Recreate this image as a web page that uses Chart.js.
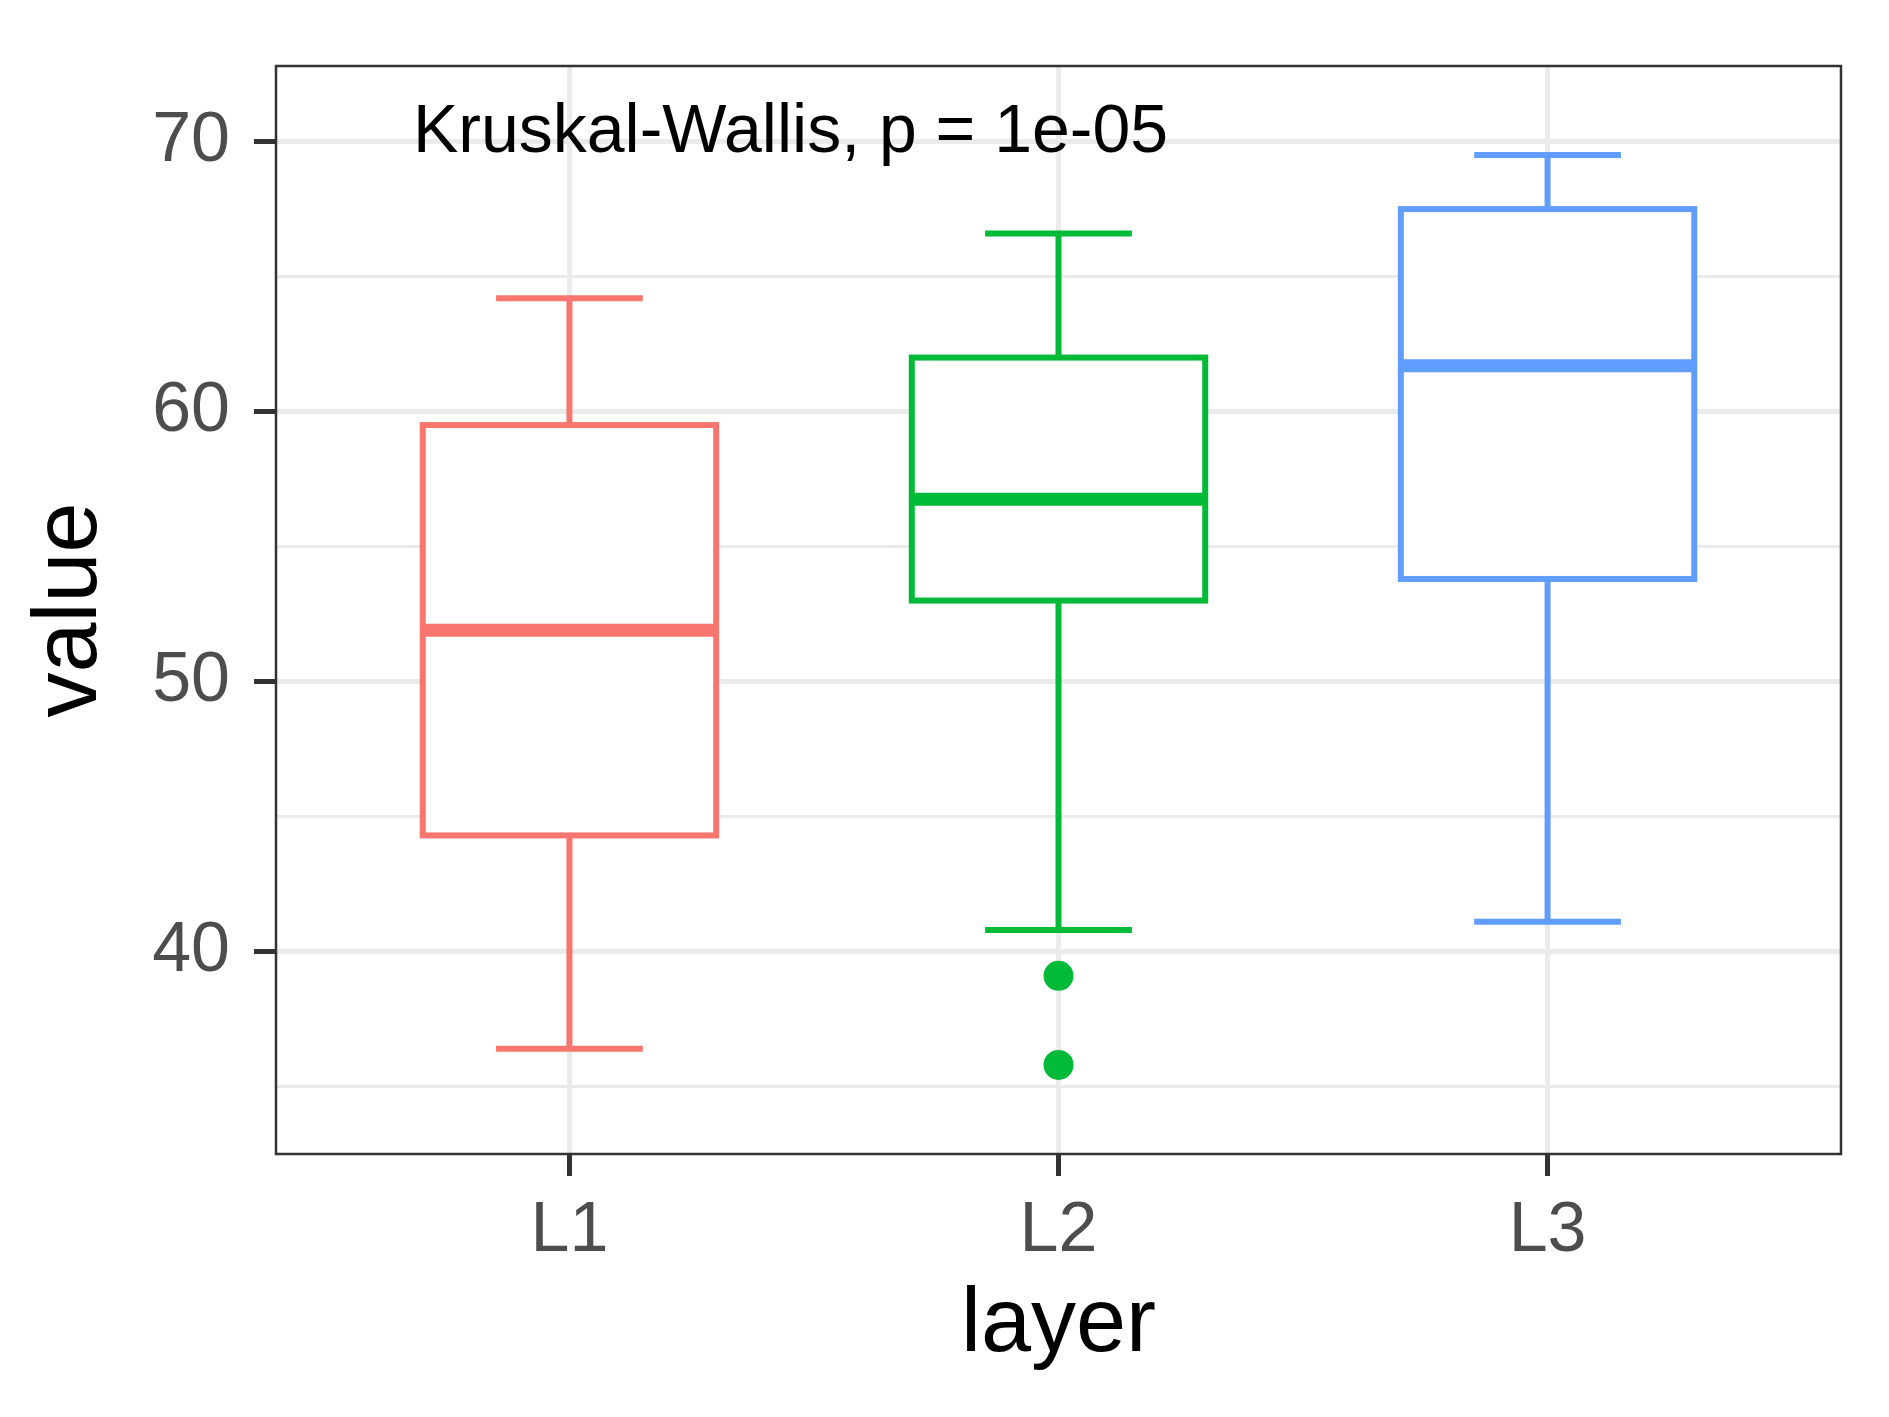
<!DOCTYPE html>
<html>
<head>
<meta charset="utf-8">
<script src="https://cdn.jsdelivr.net/npm/chart.js@4/dist/chart.umd.min.js"></script>
<style>
  html, body { margin: 0; padding: 0; background: #fff; }
  #wrap { width: 1889px; height: 1417px; }
</style>
</head>
<body>
<div id="wrap"><canvas id="box"></canvas></div>
<script>
// data
const layers = ['L1', 'L2', 'L3'];
const colors = ['#F8766D', '#00BA38', '#619CFF'];
const whiskerLow = [36.4, 40.8, 41.1];
const q1 = [44.3, 53.0, 53.8];
const median = [51.9, 56.75, 61.7];
const q3 = [59.5, 62.0, 67.5];
const whiskerHigh = [64.2, 66.6, 69.5];
const outliers = [[], [39.1, 35.8], []];
const yTicks = [35, 40, 45, 50, 55, 60, 65, 70];
const annotation = 'Kruskal-Wallis, p = 1e-05';

const FONT = 'Liberation Sans, Arial, sans-serif';

// box + whiskers drawn through the chart scales
const boxPlugin = {
  id: 'boxes',
  afterDatasetsDraw(chart) {
    const ctx = chart.ctx, x = chart.scales.x, y = chart.scales.y;
    ctx.save();
    layers.forEach((l, i) => {
      const cx = x.getPixelForValue(i + 1);
      const bl = x.getPixelForValue(i + 1 - 0.3), br = x.getPixelForValue(i + 1 + 0.3);
      const cl = x.getPixelForValue(i + 1 - 0.15), cr = x.getPixelForValue(i + 1 + 0.15);
      ctx.strokeStyle = colors[i];
      ctx.lineWidth = 6;
      ctx.beginPath();
      ctx.moveTo(cx, y.getPixelForValue(whiskerLow[i])); ctx.lineTo(cx, y.getPixelForValue(q1[i]));
      ctx.moveTo(cx, y.getPixelForValue(q3[i])); ctx.lineTo(cx, y.getPixelForValue(whiskerHigh[i]));
      ctx.moveTo(cl, y.getPixelForValue(whiskerLow[i])); ctx.lineTo(cr, y.getPixelForValue(whiskerLow[i]));
      ctx.moveTo(cl, y.getPixelForValue(whiskerHigh[i])); ctx.lineTo(cr, y.getPixelForValue(whiskerHigh[i]));
      ctx.stroke();
      const top = y.getPixelForValue(q3[i]), bot = y.getPixelForValue(q1[i]);
      ctx.fillStyle = '#fff';
      ctx.fillRect(bl, top, br - bl, bot - top);
      ctx.strokeRect(bl, top, br - bl, bot - top);
      ctx.lineWidth = 13;
      ctx.beginPath();
      ctx.moveTo(bl, y.getPixelForValue(median[i])); ctx.lineTo(br, y.getPixelForValue(median[i]));
      ctx.stroke();
      outliers[i].forEach(v => {
        ctx.fillStyle = colors[i];
        ctx.beginPath();
        ctx.arc(cx, y.getPixelForValue(v), 15, 0, Math.PI * 2);
        ctx.fill();
      });
    });
    ctx.fillStyle = '#000';
    ctx.font = '68px ' + FONT;
    ctx.textBaseline = 'middle';
    ctx.fillText(annotation, x.getPixelForValue(0.68), y.getPixelForValue(70.3));
    // panel border
    const a = chart.chartArea;
    ctx.strokeStyle = '#333';
    ctx.lineWidth = 2.5;
    ctx.strokeRect(a.left, a.top, a.right - a.left, a.bottom - a.top);
    ctx.restore();
  }
};

new Chart(document.getElementById('box'), {
  type: 'scatter',
  data: { datasets: [{ data: [], pointRadius: 0 }] },
  options: {
    responsive: true,
    maintainAspectRatio: false,
    animation: false,
    layout: { padding: { top: 48, right: 48 } },
    plugins: { legend: { display: false }, tooltip: { enabled: false } },
    scales: {
      x: {
        type: 'linear', min: 0.4, max: 3.6,
        afterBuildTicks: s => { s.ticks = [1, 2, 3].map(v => ({ value: v })); },
        afterFit: s => { s.height = 263; },
        border: { display: false },
        grid: { color: '#ebebeb', lineWidth: 5, tickColor: '#333', tickLength: 22, tickWidth: 5 },
        ticks: { callback: v => layers[v - 1] || '', color: '#4d4d4d', font: { size: 70, family: FONT }, padding: 14 },
        title: { display: true, text: 'layer', color: '#000', font: { size: 90, family: FONT }, padding: { top: 4, bottom: 37 } }
      },
      y: {
        min: 32.5, max: 72.8,
        afterBuildTicks: s => { s.ticks = yTicks.map(v => ({ value: v })); },
        afterFit: s => { s.width = 276; },
        border: { display: false },
        grid: {
          color: '#ebebeb',
          lineWidth: c => (c.tick && c.tick.value % 10 === 0 ? 5 : 3),
          tickColor: c => (c.tick && c.tick.value % 10 === 0 ? '#333' : 'rgba(0,0,0,0)'),
          tickLength: 22, tickWidth: 5
        },
        ticks: { callback: v => (v % 10 === 0 ? v : ''), color: '#4d4d4d', font: { size: 70, family: FONT }, padding: 24 },
        title: { display: true, text: 'value', color: '#000', font: { size: 90, family: FONT }, padding: { top: 17, bottom: 17 } }
      }
    }
  },
  plugins: [boxPlugin]
});
</script>
</body>
</html>
